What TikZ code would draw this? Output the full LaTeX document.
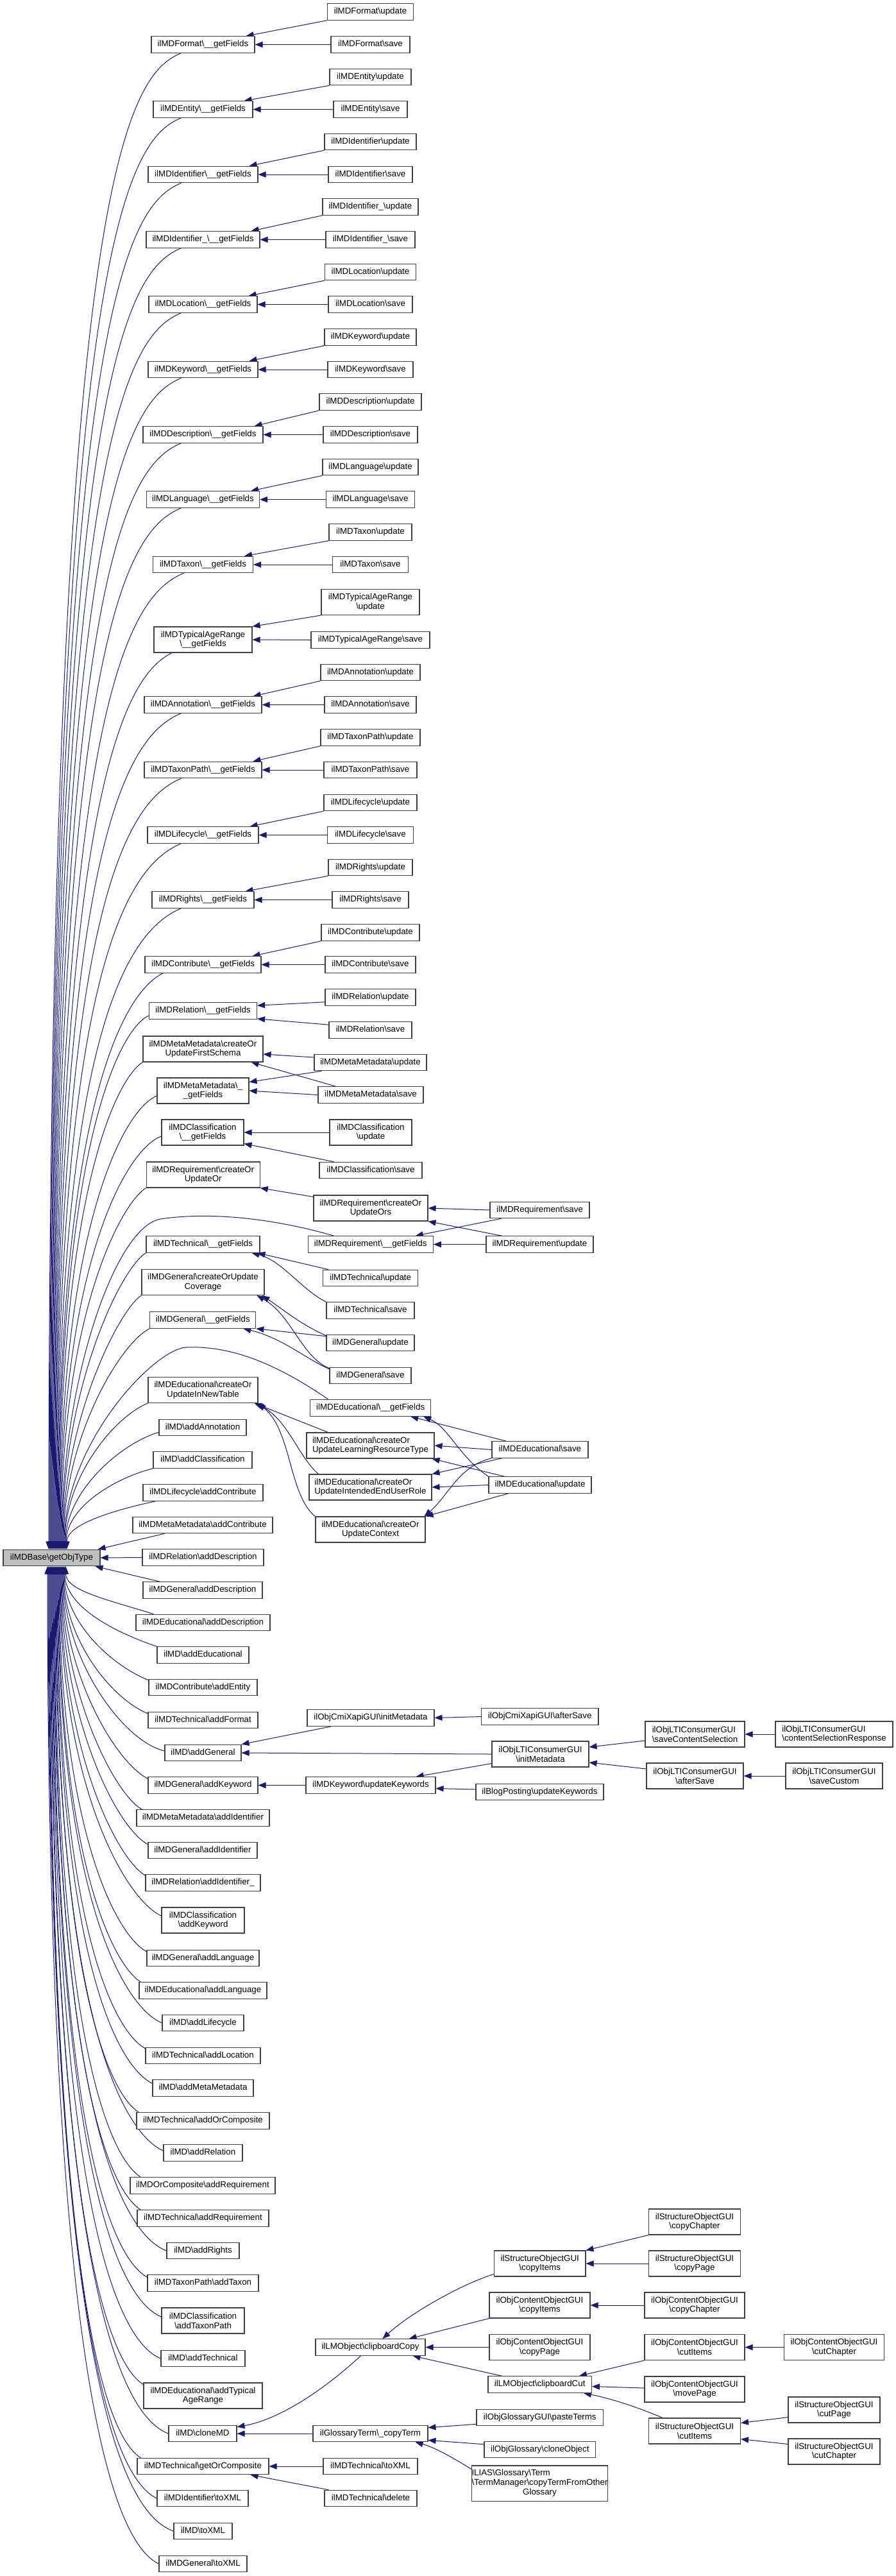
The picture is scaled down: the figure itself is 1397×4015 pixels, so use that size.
\documentclass[tikz,border=0pt]{standalone}
\usepackage{fontspec}
\setmainfont{Liberation Sans}
\usetikzlibrary{arrows.meta,calc}
\pgfdeclarelayer{back}
\pgfsetlayers{back,main}
\definecolor{edgeblue}{HTML}{191970}
\newcommand{\bkz}{\textbackslash}
\tikzset{
  nbase/.style={draw=black!75, fill=white, line width=0.55pt, inner sep=0pt, font=\fontsize{6.67pt}{7.35pt}\selectfont},
  nb/.style={nbase, minimum height=12.75pt, text height=4.9pt, text depth=1.45pt},
  nb2/.style={nbase, minimum height=20pt, align=center},
  lnk/.style={draw=edgeblue, line width=0.5pt, -{Triangle[length=6pt,width=4.6pt]}},
}
\newcommand{\mkA}[5]{\node[nb,minimum width=#4*0.5pt] (#1) at (#2,#3) {#5};}
\newcommand{\mkB}[5]{\node[nb2,minimum width=#4*0.5pt] (#1) at (#2,#3) {#5};}
\newcommand{\mkC}[5]{\node[nb2,align=left,minimum width=#4*0.5pt] (#1) at (#2,#3) {#5};}
\newcommand{\grp}[7]{\mkA{#1G}{316.5}{#2}{#3}{#7\bkz{}\_\_getFields}\mkA{#1U}{577.5}{#4}{#5}{#7\bkz{}update}\mkA{#1S}{577.5}{#2}{#6}{#7\bkz{}save}}
\newcommand{\ru}[4]{\draw[lnk] #1 .. controls +(#2) and +(0,#3) .. ($(root.north)+(#4,0)$);}
\newcommand{\rl}[4]{\draw[lnk] #1 .. controls +(#2) and +(0,#3) .. ($(root.south)+(#4,0)$);}
\begin{document}
\begin{tikzpicture}[x=0.5pt,y=-0.5pt]
\useasboundingbox (0,0) rectangle (1397,4015);
% root
\node[nb, fill=black!25, minimum width=75.5pt] (root) at (80.5,2428) {ilMDBase\bkz{}getObjType};
% standard groups
\grp{fmt}{69.5}{161}{18.5}{134}{123}{ilMDFormat}
\grp{ent}{170.5}{155}{120}{127}{115}{ilMDEntity}
\grp{idf}{272}{171}{221}{143}{131}{ilMDIdentifier}
\grp{idu}{373.5}{177}{322.5}{149}{139}{ilMDIdentifier\_}
\grp{loc}{474.5}{169}{424}{142}{131}{ilMDLocation}
\grp{kw}{576}{171}{525.5}{143}{133}{ilMDKeyword}
\grp{desc}{677.5}{187}{626.5}{159}{147}{ilMDDescription}
\grp{lang}{778.5}{176}{728}{149}{138}{ilMDLanguage}
\grp{tax}{880}{156}{829.5}{129}{118}{ilMDTaxon}
\grp{ann}{1098.5}{183}{1048}{155}{143}{ilMDAnnotation}
\grp{tp}{1200}{183}{1149.5}{155}{145}{ilMDTaxonPath}
\grp{lc}{1301.5}{173}{1251}{145}{134}{ilMDLifecycle}
\grp{rt}{1402.5}{159}{1352}{131}{119}{ilMDRights}
\grp{con}{1503.5}{181}{1453.5}{153}{141}{ilMDContribute}
% typical age range
\mkB{tarG}{316.5}{997}{153}{ilMDTypicalAgeRange\\\bkz{}\_\_getFields}
\mkB{tarU}{577.5}{938.5}{153}{ilMDTypicalAgeRange\\\bkz{}update}
\mkA{tarS}{577.5}{997.5}{185}{ilMDTypicalAgeRange\bkz{}save}
% relation
\mkA{relG}{316.5}{1575.5}{168}{ilMDRelation\bkz{}\_\_getFields}
\mkA{relU}{577.5}{1554.5}{141}{ilMDRelation\bkz{}update}
\mkA{relS}{577.5}{1605.5}{129}{ilMDRelation\bkz{}save}
% meta metadata
\mkB{mmFS}{316.5}{1635}{187}{ilMDMetaMetadata\bkz{}createOr\\UpdateFirstSchema}
\mkA{mmU}{577.5}{1656}{175}{ilMDMetaMetadata\bkz{}update}
\mkB{mmG}{316.5}{1700}{143}{ilMDMetaMetadata\bkz{}\_\\\_getFields}
\mkA{mmS}{578}{1706.5}{164}{ilMDMetaMetadata\bkz{}save}
% classification
\mkB{clG}{316}{1765}{128}{ilMDClassification\\\bkz{}\_\_getFields}
\mkB{clU}{578}{1765}{128}{ilMDClassification\\\bkz{}update}
\mkA{clS}{578}{1824}{160}{ilMDClassification\bkz{}save}
% requirement
\mkB{rqOr}{316.7}{1831}{177}{ilMDRequirement\bkz{}createOr\\UpdateOr}
\mkB{rqOrs}{578}{1883}{178}{ilMDRequirement\bkz{}createOr\\UpdateOrs}
\mkA{rqS}{841.5}{1886}{155}{ilMDRequirement\bkz{}save}
\mkA{rqU}{841.5}{1939.5}{167}{ilMDRequirement\bkz{}update}
\mkA{rqG}{577.7}{1939.5}{195}{ilMDRequirement\bkz{}\_\_getFields}
% technical
\mkA{tcG}{316.5}{1939.5}{177}{ilMDTechnical\bkz{}\_\_getFields}
\mkA{tcU}{577.7}{1992}{148}{ilMDTechnical\bkz{}update}
\mkA{tcS}{577.5}{2042.5}{137}{ilMDTechnical\bkz{}save}
% general
\mkB{gnCov}{316.5}{1998.5}{191}{ilMDGeneral\bkz{}createOrUpdate\\Coverage}
\mkA{gnG}{316.3}{2057.5}{165}{ilMDGeneral\bkz{}\_\_getFields}
\mkA{gnU}{577.5}{2093}{137}{ilMDGeneral\bkz{}update}
\mkA{gnS}{577.5}{2144}{127}{ilMDGeneral\bkz{}save}
% educational
\mkB{edNT}{316.5}{2166.5}{171}{ilMDEducational\bkz{}createOr\\UpdateInNewTable}
\mkA{edG}{577.7}{2194.5}{188}{ilMDEducational\bkz{}\_\_getFields}
\mkC{edLRT}{577.5}{2253}{199}{ilMDEducational\bkz{}createOr\\UpdateLearningResourceType}
\mkA{edS}{842}{2259.5}{150}{ilMDEducational\bkz{}save}
\mkC{edIE}{577.5}{2318}{191}{ilMDEducational\bkz{}createOr\\UpdateIntendedEndUserRole}
\mkA{edU}{842}{2314.5}{160}{ilMDEducational\bkz{}update}
\mkB{edCtx}{577.5}{2384}{171}{ilMDEducational\bkz{}createOr\\UpdateContext}
% column 2 singles
\mkA{addAnn}{316}{2225}{136}{ilMD\bkz{}addAnnotation}
\mkA{addCls}{316}{2275.5}{154}{ilMD\bkz{}addClassification}
\mkA{lcAddCon}{316.5}{2326.5}{187}{ilMDLifecycle\bkz{}addContribute}
\mkA{mmAddCon}{316}{2377}{218}{ilMDMetaMetadata\bkz{}addContribute}
\mkA{relAddDesc}{316.5}{2427.5}{189}{ilMDRelation\bkz{}addDescription}
\mkA{gnAddDesc}{316}{2478.5}{186}{ilMDGeneral\bkz{}addDescription}
\mkA{edAddDesc}{316.5}{2529}{209}{ilMDEducational\bkz{}addDescription}
\mkA{addEdu}{316.5}{2579.5}{143}{ilMD\bkz{}addEducational}
\mkA{conAddEnt}{316.5}{2630}{169}{ilMDContribute\bkz{}addEntity}
\mkA{tcAddFmt}{316.5}{2681}{171}{ilMDTechnical\bkz{}addFormat}
\mkA{addGen}{316.5}{2732}{119}{ilMD\bkz{}addGeneral}
\mkA{gnAddKw}{316.5}{2782.5}{171}{ilMDGeneral\bkz{}addKeyword}
\mkA{mmAddId}{316.5}{2833.5}{207}{ilMDMetaMetadata\bkz{}addIdentifier}
\mkA{gnAddId}{316}{2884}{170}{ilMDGeneral\bkz{}addIdentifier}
\mkA{relAddId}{316.5}{2934.5}{179}{ilMDRelation\bkz{}addIdentifier\_}
\mkB{clAddKw}{316.5}{2993}{129}{ilMDClassification\\\bkz{}addKeyword}
\mkA{gnAddLang}{316.5}{3052}{175}{ilMDGeneral\bkz{}addLanguage}
\mkA{edAddLang}{316.5}{3102.5}{199}{ilMDEducational\bkz{}addLanguage}
\mkA{addLc}{316.5}{3153}{127}{ilMD\bkz{}addLifecycle}
\mkA{tcAddLoc}{316.5}{3204}{179}{ilMDTechnical\bkz{}addLocation}
\mkA{addMM}{316.5}{3254.5}{157}{ilMD\bkz{}addMetaMetadata}
\mkA{tcAddOrC}{316.5}{3305.5}{207}{ilMDTechnical\bkz{}addOrComposite}
\mkA{addRel}{316.5}{3355.5}{123}{ilMD\bkz{}addRelation}
\mkA{orcAddReq}{316}{3406.5}{226}{ilMDOrComposite\bkz{}addRequirement}
\mkA{tcAddReq}{316.5}{3457.5}{205}{ilMDTechnical\bkz{}addRequirement}
\mkA{addRights}{316.5}{3508}{113}{ilMD\bkz{}addRights}
\mkA{tpAddTax}{316.5}{3558.5}{173}{ilMDTaxonPath\bkz{}addTaxon}
\mkB{clAddTP}{316.5}{3617}{129}{ilMDClassification\\\bkz{}addTaxonPath}
\mkA{addTech}{316.5}{3676}{131}{ilMD\bkz{}addTechnical}
\mkB{edAddTAR}{316.5}{3734}{185}{ilMDEducational\bkz{}addTypical\\AgeRange}
\mkA{cloneMD}{316}{3793}{106}{ilMD\bkz{}cloneMD}
\mkA{tcGetOrC}{316.5}{3844}{205}{ilMDTechnical\bkz{}getOrComposite}
\mkA{idToXML}{316}{3894}{142}{ilMDIdentifier\bkz{}toXML}
\mkA{toXML}{316.5}{3945}{91}{ilMD\bkz{}toXML}
\mkA{gnToXML}{316.5}{3996}{137}{ilMDGeneral\bkz{}toXML}
% general / keyword callers
\mkA{cmiInit}{578}{2677.5}{198}{ilObjCmiXapiGUI\bkz{}initMetadata}
\mkA{kwUpd}{578}{2782.5}{202}{ilMDKeyword\bkz{}updateKeywords}
\mkA{cmiAfter}{841.7}{2675.5}{182.5}{ilObjCmiXapiGUI\bkz{}afterSave}
\mkB{ltiInit}{842.5}{2734}{151}{ilObjLTIConsumerGUI\\\bkz{}initMetadata}
\mkA{blog}{841.5}{2793}{199}{ilBlogPosting\bkz{}updateKeywords}
\mkC{ltiSCS}{1083.5}{2703}{155}{ilObjLTIConsumerGUI\\\bkz{}saveContentSelection}
\mkB{ltiAfter}{1083.5}{2768}{151}{ilObjLTIConsumerGUI\\\bkz{}afterSave}
\mkC{ltiCSR}{1300.5}{2703}{183}{ilObjLTIConsumerGUI\\\bkz{}contentSelectionResponse}
\mkB{ltiSC}{1300.5}{2768}{151}{ilObjLTIConsumerGUI\\\bkz{}saveCustom}
% clone / clipboard
\mkA{clipCopy}{577.5}{3658.5}{171}{ilLMObject\bkz{}clipboardCopy}
\mkA{copyTerm}{577.5}{3793}{179}{ilGlossaryTerm\bkz{}\_copyTerm}
\mkA{tcToXML}{577.5}{3844}{147}{ilMDTechnical\bkz{}toXML}
\mkA{tcDel}{578}{3894}{144}{ilMDTechnical\bkz{}delete}
\mkB{soCopyCh}{1083}{3463}{143}{ilStructureObjectGUI\\\bkz{}copyChapter}
\mkB{soCopyIt}{841.7}{3528}{142.5}{ilStructureObjectGUI\\\bkz{}copyItems}
\mkB{soCopyPg}{1083}{3528}{143}{ilStructureObjectGUI\\\bkz{}copyPage}
\mkB{ocCopyIt}{841.5}{3593}{157}{ilObjContentObjectGUI\\\bkz{}copyItems}
\mkB{ocCopyCh}{1083}{3593}{156}{ilObjContentObjectGUI\\\bkz{}copyChapter}
\mkB{ocCopyPg}{841.5}{3658.5}{157}{ilObjContentObjectGUI\\\bkz{}copyPage}
\mkB{ocCutIt}{1083}{3658.5}{156}{ilObjContentObjectGUI\\\bkz{}cutItems}
\mkB{ocCutCh}{1300.5}{3658.5}{156}{ilObjContentObjectGUI\\\bkz{}cutChapter}
\mkA{clipCut}{841.7}{3716.5}{161.5}{ilLMObject\bkz{}clipboardCut}
\mkB{ocMove}{1083}{3724}{156}{ilObjContentObjectGUI\\\bkz{}movePage}
\mkB{soCutPg}{1300.5}{3756}{143}{ilStructureObjectGUI\\\bkz{}cutPage}
\mkB{soCutIt}{1083}{3789}{143}{ilStructureObjectGUI\\\bkz{}cutItems}
\mkB{soCutCh}{1300.5}{3821}{143}{ilStructureObjectGUI\\\bkz{}cutChapter}
\mkA{pasteTerms}{841.8}{3768}{197.6}{ilObjGlossaryGUI\bkz{}pasteTerms}
\mkA{glCloneObj}{841.8}{3818}{173.7}{ilObjGlossary\bkz{}cloneObject}
\node[nbase, minimum width=98.5pt, minimum height=27.5pt] (termMgr) at (841.5,3870.5) {\begin{tabular}{@{}l@{}}ILIAS\bkz{}Glossary\bkz{}Term\\\bkz{}TermManager\bkz{}copyTermFromOther\\\multicolumn{1}{@{}c@{}}{Glossary}\end{tabular}};

\begin{pgfonlayer}{back}
\fill[white] (0,0) rectangle (1397,4015);
\foreach \g in {fmt,ent,idf,idu,loc,kw,desc,lang,tax,ann,tp,lc,rt,con}{
  \draw[lnk] (\g U.south west) -- ([xshift=-7pt]\g G.north east);
  \draw[lnk] (\g S.west) -- (\g G.east);}
\draw[lnk] (tarU.south west) -- (tarG.north east);
\draw[lnk] (tarS.west) -- (tarG.east);
\draw[lnk] ([yshift=3pt]relU.south west) -- ([yshift=-2.5pt]relG.north east);
\draw[lnk] ([yshift=-2.5pt]relS.north west) -- ([yshift=0.5pt]relG.south east);
\draw[lnk] ([yshift=4pt]mmU.west) -- ([yshift=-4pt]mmFS.east);
\draw[lnk] ([xshift=14pt]mmS.north west) -- ([xshift=-9.5pt]mmFS.south east);
\draw[lnk] ([xshift=6pt]mmU.south west) -- ([yshift=-3.5pt]mmG.north east);
\draw[lnk] (mmS.west) -- (mmG.east);
\draw[lnk] (clU.west) -- (clG.east);
\draw[lnk] ([xshift=11.5pt]clS.north west) -- ([yshift=1.5pt]clG.south east);
\draw[lnk] ([yshift=-1.5pt]rqOrs.north west) -- (rqOr.south east);
\draw[lnk] (rqS.west) -- (rqOrs.east);
\draw[lnk] ([xshift=12.5pt]rqU.north west) -- (rqOrs.south east);
\draw[lnk] ([xshift=9pt]rqS.south west) -- ([xshift=-14pt]rqG.north east);
\draw[lnk] (rqU.west) -- (rqG.east);
\draw[lnk] ([xshift=4.5pt]tcU.north west) -- ([xshift=-2pt]tcG.south east);
\draw[lnk] (tcS.north west) .. controls (470,2010) and (440,1965) .. ([xshift=-6.5pt]tcG.south east);
\draw[lnk] ([yshift=-1pt]gnU.north west) .. controls (470,2065) and (440,2040) .. ([xshift=-2pt]gnCov.south east);
\draw[lnk] ([yshift=-1pt]gnS.north west) .. controls (470,2115) and (455,2050) .. ([xshift=-6pt]gnCov.south east);
\draw[lnk] ([yshift=-1.5pt]gnU.north west) -- (gnG.south east);
\draw[lnk] ([yshift=-1.5pt]gnS.north west) .. controls (480,2120) and (440,2085) .. ([xshift=-10pt]gnG.south east);
\draw[lnk] ([xshift=17pt]edLRT.north west) -- ([xshift=-3pt]edNT.south east);
\draw[lnk] ([xshift=7.5pt]edIE.north west) .. controls (465,2270) and (450,2215) .. ([xshift=-1.5pt]edNT.south east);
\draw[lnk] (edCtx.north west) .. controls (450,2330) and (455,2230) .. (edNT.south east);
\draw[lnk] ([xshift=11.5pt]edS.north west) -- ([xshift=-16pt]edG.south east);
\draw[lnk] (edU.north west) .. controls (715,2270) and (700,2225) .. ([xshift=-6pt]edG.south east);
\draw[lnk] (edS.west) -- (edLRT.east);
\draw[lnk] ([xshift=12.5pt]edU.north west) -- ([xshift=-2pt]edLRT.south east);
\draw[lnk] ([xshift=8pt]edS.south west) -- (edIE.north east);
\draw[lnk] (edU.west) -- (edIE.east);
\draw[lnk] (edS.south west) .. controls (715,2285) and (700,2330) .. ([xshift=-1pt]edCtx.north east);
\draw[lnk] ([xshift=15.5pt]edU.south west) -- (edCtx.north east);
% general callers
\draw[lnk] ([xshift=19pt]cmiInit.south west) -- (addGen.north east);
\draw[lnk] (cmiAfter.west) -- (cmiInit.east);
\draw[lnk] (ltiInit.west) -- (addGen.east);
\draw[lnk] ([yshift=3pt]ltiInit.south west) -- ([xshift=-15.5pt]kwUpd.north east);
\draw[lnk] ([yshift=2pt]blog.west) -- ([yshift=-2.5pt]kwUpd.east);
\draw[lnk] (kwUpd.west) -- (gnAddKw.east);
\draw[lnk] ([yshift=-5pt]ltiSCS.west) -- ([yshift=5.5pt]ltiInit.east);
\draw[lnk] ([yshift=5.5pt]ltiAfter.west) -- ([yshift=-6.5pt]ltiInit.east);
\draw[lnk] (ltiCSR.west) -- (ltiSCS.east);
\draw[lnk] (ltiSC.west) -- (ltiAfter.east);
% clipboard
\draw[lnk] ([xshift=35.5pt]clipCopy.south west) .. controls (510,3720) and (440,3770) .. ([yshift=-1.5pt]cloneMD.north east);
\draw[lnk] (copyTerm.west) -- (cloneMD.east);
\draw[lnk] ([yshift=2pt]soCopyIt.south west) .. controls (720,3560) and (640,3605) .. ([xshift=52.5pt]clipCopy.north west);
\draw[lnk] (ocCopyIt.south west) -- ([xshift=-13pt]clipCopy.north east);
\draw[lnk] (ocCopyPg.west) -- (clipCopy.east);
\draw[lnk] ([xshift=11pt]clipCut.north west) -- ([xshift=-10pt]clipCopy.south east);
\draw[lnk] (soCopyCh.south west) -- (soCopyIt.north east);
\draw[lnk] (soCopyPg.west) -- (soCopyIt.east);
\draw[lnk] (ocCopyCh.west) -- (ocCopyIt.east);
\draw[lnk] (ocCutIt.south west) -- ([xshift=-10pt]clipCut.north east);
\draw[lnk] ([yshift=1pt]ocMove.west) -- ([yshift=-1.5pt]clipCut.east);
\draw[lnk] ([xshift=11pt]soCutIt.north west) .. controls (990,3750) and (950,3738) .. ([xshift=-6.5pt]clipCut.south east);
\draw[lnk] (ocCutCh.west) -- (ocCutIt.east);
\draw[lnk] ([yshift=4.5pt]soCutPg.south west) -- ([yshift=-4pt]soCutIt.north east);
\draw[lnk] ([yshift=-4.5pt]soCutCh.north west) -- ([yshift=4pt]soCutIt.south east);
\draw[lnk] ([yshift=1.5pt]pasteTerms.south west) -- ([yshift=-2pt]copyTerm.north east);
\draw[lnk] ([yshift=-2.5pt]glCloneObj.north west) -- ([yshift=1.5pt]copyTerm.south east);
\draw[lnk] ([yshift=-3pt]termMgr.north west) .. controls (715,3836) and (680,3815) .. ([xshift=-10pt]copyTerm.south east);
\draw[lnk] (tcToXML.west) -- (tcGetOrC.east);
\draw[lnk] ([xshift=3.5pt]tcDel.north west) -- ([xshift=-14.5pt]tcGetOrC.south east);
% root edges from above
\ru{($(fmtG.south)+(-34,0)$)}{-85,35}{-2133}{-4.5}
\ru{($(entG.south)+(-34,0)$)}{-85,35}{-2032}{-3.5}
\ru{($(idfG.south)+(-34,0)$)}{-85,35}{-1930}{-2.5}
\ru{($(iduG.south)+(-34,0)$)}{-85,35}{-1829}{-1.5}
\ru{($(locG.south)+(-34,0)$)}{-85,35}{-1728}{-0.5}
\ru{($(kwG.south)+(-34,0)$)}{-85,35}{-1626}{0.5}
\ru{($(descG.south)+(-34,0)$)}{-85,35}{-1525}{1.5}
\ru{($(langG.south)+(-34,0)$)}{-85,35}{-1424}{2.5}
\ru{($(taxG.south)+(-30,0)$)}{-85,35}{-1322}{3.5}
\ru{($(tarG.south)+(-48.5,0)$)}{-70,35}{-1198}{4.5}
\ru{($(annG.south)+(-34,0)$)}{-85,35}{-1104}{5.5}
\ru{($(tpG.south)+(-34,0)$)}{-85,35}{-1002}{6.5}
\ru{($(lcG.south)+(-34,0)$)}{-85,35}{-901}{7.5}
\ru{($(rtG.south)+(-34,0)$)}{-85,35}{-800}{8.5}
\ru{($(conG.south)+(-62.5,0)$)}{-60,30}{-699}{9.5}
\ru{([yshift=-3.75pt]relG.west)}{-45,20}{-632}{10.5}
\ru{(mmFS.south west)}{-40,25}{-560}{11.5}
\ru{([yshift=-4pt]mmG.west)}{-50,20}{-507}{12.5}
\ru{([yshift=-3pt]clG.west)}{-55,20}{-444}{13.5}
\ru{(rqOr.south west)}{-40,25}{-364}{14.5}
\draw[lnk] ($(rqG.north west)+(41,0)$) .. controls (430,1900) and (330,1888) .. (250,1900) .. controls (180,1912) and (96,2150) .. ($(root.north)+(15.5,0)$);
\ru{(tcG.south west)}{-40,25}{-250}{16.5}
\ru{(gnCov.south west)}{-35,22}{-200}{17.5}
\ru{(gnG.south west)}{-45,22}{-175}{18.5}
\draw[lnk] ($(edG.north west)+(29,0)$) .. controls (430,2125) and (360,2097) .. (290,2100) .. controls (240,2103) and (100,2250) .. ($(root.north)+(19.5,0)$);
\ru{(edNT.south west)}{-50,20}{-115}{20.5}
\ru{([yshift=3pt]addAnn.south west)}{-60,18}{-90}{21.5}
\ru{(addCls.south west)}{-60,15}{-65}{22.5}
\ru{($(lcAddCon.south west)+(20,0)$)}{-70,15}{-38}{23.5}
\draw[lnk] ($(mmAddCon.south west)+(50,0)$) -- ([xshift=-2pt]root.north east);
% root edges from below
\draw[lnk] (relAddDesc.west) -- (root.east);
\draw[lnk] ($(gnAddDesc.north west)+(27,0)$) -- ([xshift=-4pt]root.south east);
\rl{($(edAddDesc.north west)+(28,0)$)}{-70,-22}{38}{22}
\rl{(addEdu.north west)}{-65,-22}{63}{20.5}
\rl{([yshift=-1pt]conAddEnt.north west)}{-55,-22}{89}{19.5}
\rl{([yshift=-1.5pt]tcAddFmt.north west)}{-55,-22}{115}{18.5}
\rl{([yshift=1.5pt]addGen.west)}{-65,-15}{144}{17.5}
\rl{([yshift=-1.5pt]gnAddKw.north west)}{-50,-25}{166}{16.5}
\rl{($(mmAddId.north west)+(9,0)$)}{-45,-25}{190}{15.5}
\rl{([yshift=-2pt]gnAddId.north west)}{-50,-27}{234}{14.5}
\rl{([yshift=-1pt]relAddId.north west)}{-45,-27}{283}{13.5}
\rl{([yshift=3.5pt]clAddKw.west)}{-55,-25}{345}{12.5}
\rl{([yshift=-1.5pt]gnAddLang.north west)}{-50,-27}{401}{11.5}
\rl{($(edAddLang.north west)+(3,0)$)}{-45,-28}{449}{10.5}
\rl{(addLc.west)}{-60,-25}{512}{9.5}
\rl{([yshift=-1pt]tcAddLoc.north west)}{-50,-27}{552}{8.5}
\rl{([yshift=-3pt]addMM.north west)}{-55,-27}{607}{7.5}
\rl{($(tcAddOrC.north west)+(4,0)$)}{-45,-28}{652}{6.5}
\rl{([yshift=-5pt]addRel.north west)}{-60,-27}{712}{5.5}
\rl{($(orcAddReq.north west)+(17,0)$)}{-45,-28}{753}{4.5}
\rl{($(tcAddReq.north west)+(6,0)$)}{-45,-28}{804}{3.5}
\rl{(addRights.west)}{-65,-25}{867}{2.5}
\rl{([yshift=-2pt]tpAddTax.north west)}{-50,-28}{909}{1.5}
\rl{([yshift=3pt]clAddTP.west)}{-60,-25}{970}{0.5}
\rl{(addTech.west)}{-60,-25}{1035}{-0.5}
\rl{([yshift=-1.5pt]edAddTAR.north west)}{-45,-28}{1076}{-1.5}
\rl{(cloneMD.west)}{-65,-25}{1152}{-2.5}
\rl{($(tcGetOrC.north west)+(6,0)$)}{-45,-28}{1190}{-3.5}
\rl{(idToXML.west)}{-55,-27}{1253}{-4.5}
\rl{(toXML.west)}{-70,-25}{1304}{-5.5}
\rl{(gnToXML.west)}{-55,-27}{1355}{-6.5}
\end{pgfonlayer}
\end{tikzpicture}
\end{document}
